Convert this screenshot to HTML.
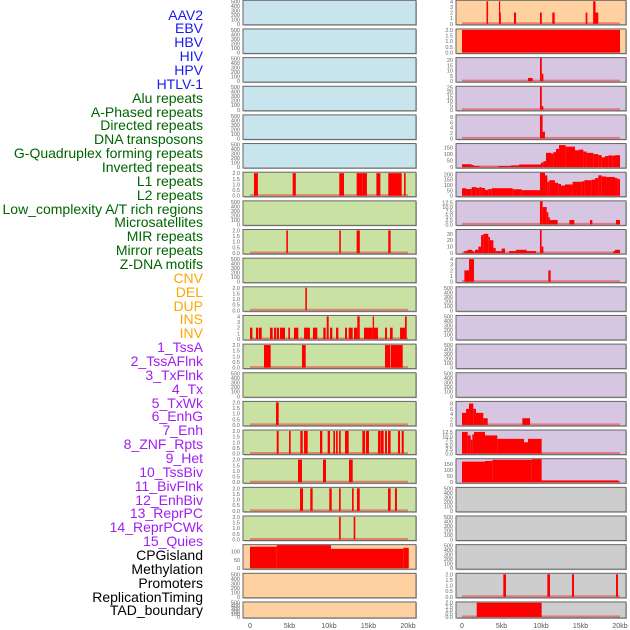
<!DOCTYPE html>
<html><head><meta charset="utf-8"><style>
body{margin:0;background:#fff;width:630px;height:630px;overflow:hidden;font-family:"Liberation Sans",sans-serif}
#labels{position:absolute;left:0;top:0;width:203px}
.lab{position:absolute;right:0;font-size:14px;line-height:14px;white-space:nowrap}
svg{position:absolute;left:0;top:0}
</style></head><body>
<div id="labels"></div>
<svg id="chart" width="630" height="630"></svg>
<script>
const labelNames=["AAV2","EBV","HBV","HIV","HPV","HTLV-1","Alu repeats","A-Phased repeats","Directed repeats","DNA transposons","G-Quadruplex forming repeats","Inverted repeats","L1 repeats","L2 repeats","Low_complexity A/T rich regions","Microsatellites","MIR repeats","Mirror repeats","Z-DNA motifs","CNV","DEL","DUP","INS","INV","1_TssA","2_TssAFlnk","3_TxFlnk","4_Tx","5_TxWk","6_EnhG","7_Enh","8_ZNF_Rpts","9_Het","10_TssBiv","11_BivFlnk","12_EnhBiv","13_ReprPC","14_ReprPCWk","15_Quies","CPGisland","Methylation","Promoters","ReplicationTiming","TAD_boundary"];
const labelGroups=[6,13,5,15,5];
const xTickLabels=["0","5kb","10kb","15kb","20kb"];
const xTickValues=[0,5,10,15,20];
const T500=[0,100,200,300,400,500];
const T2=[0,0.5,1,1.5,2];
const T4=[0,1,2,3,4];
// left column bar data [startKb,endKb,value]
const L6=[[0.5,1.0,2],[5.4,5.8,2],[11.3,11.9,2],[13.5,14.2,2],[14.2,14.8,2],[16.0,16.5,2],[17.5,19.2,2],[19.5,19.7,2]];
const L8=[[4.6,4.8,2],[11.3,11.5,2],[13.5,13.9,2],[17.5,17.8,2]];
const L10=[[7.0,7.2,2]];
const L11=[[0,0.3,2],[0.76,1.05,2],[1.14,1.48,2],[2.53,2.87,2],[3.04,3.29,2],[3.38,3.67,2],[3.8,4.43,2],[4.85,5.06,2],[5.57,6.11,2],[6.84,7.59,2],[7.97,8.52,2],[9.28,9.58,2],[9.71,9.96,4],[10.13,10.42,2],[10.89,11.18,2],[12.03,12.28,2],[12.49,13.0,2],[13.16,13.58,2],[13.58,13.89,4],[14.43,15.53,2],[15.53,15.7,4],[15.7,16.2,2],[17.09,17.34,2],[17.72,18.06,2],[18.99,19.62,2],[19.62,19.84,4]];
const L12=[[1.77,2.62,2],[6.58,7.05,2],[17.09,17.72,2],[17.8,19.33,2]];
const L14=[[3.29,3.63,2]];
const L15=[[3.38,3.63,2],[4.94,5.15,2],[6.37,6.67,2],[6.84,7.3,2],[8.86,9.15,2],[9.83,10.13,2],[10.55,10.76,2],[10.89,11.1,2],[11.27,11.48,2],[12.03,12.49,2],[14.22,14.56,2],[14.68,15.06,2],[16.2,16.5,2],[16.54,16.92,2],[17.09,17.34,2],[17.47,17.8,2],[18.73,18.99,2],[19.2,19.46,2]];
const L16=[[6.08,6.58,2],[9.24,9.62,2],[12.53,13.0,2]];
const L17=[[6.33,6.71,2],[7.63,7.93,2],[10.04,10.34,2],[11.27,11.48,2],[12.91,13.12,2],[13.54,13.89,2],[17.47,17.8,2],[18.35,18.6,2]];
const L18=[[11.27,11.48,2],[13.12,13.33,2]];
const L19=[[0,3.38,128],[3.38,10.25,140],[10.25,19.4,115],[19.4,20.1,121]];
// right column bar data
const R0=[[3.1,3.3,4],[4.68,4.77,4],[4.77,4.85,2],[6.58,6.84,2],[9.87,10.1,2],[11.43,11.73,2],[15.65,15.87,2],[16.6,16.9,4],[16.9,17.25,2]];
const R1=[[0,20,2]];
const R2=[[8.35,8.95,3],[9.87,10.1,23],[10.1,10.3,7]];
const R3=[[9.87,10.1,27],[10.1,10.3,4]];
const R4=[[9.87,10.2,9],[10.2,10.5,2.5]];
const R5=[[0,1.22,22],[1.22,1.52,15],[1.52,2.19,8],[2.19,4.6,2],[4.6,6.2,8],[6.2,7.22,13],[7.22,10.0,20],[10.0,10.3,35],[10.3,10.63,45],[10.63,11.27,110],[11.27,11.56,105],[11.56,11.9,115],[11.9,12.28,140],[12.28,13.12,170],[13.12,14.3,158],[14.3,14.81,130],[14.81,15.36,135],[15.36,15.78,120],[15.78,16.62,110],[16.62,17.26,100],[17.26,17.68,92],[17.68,18.1,75],[18.1,18.52,85],[18.52,19.03,90],[19.03,19.37,88],[19.37,20.0,92]];
const R6=[[0,0.51,70],[0.51,1.22,62],[1.22,1.86,80],[1.86,2.19,72],[2.19,2.49,80],[2.49,2.91,72],[2.91,3.33,55],[3.33,3.76,62],[3.76,6.41,70],[6.41,7.55,60],[7.55,9.87,52],[9.87,10.51,215],[10.51,10.8,190],[10.8,11.05,130],[11.05,11.77,145],[11.77,12.19,120],[12.19,12.53,110],[12.53,13.04,95],[13.04,14.0,105],[14.0,15.15,130],[15.15,15.49,135],[15.49,16.41,145],[16.41,16.84,150],[16.84,17.26,165],[17.26,17.68,190],[17.68,18.23,180],[18.23,19.37,175],[19.37,19.7,165],[19.7,20.0,155]];
const R7=[[9.87,10.21,13.5],[10.21,10.72,10],[10.72,10.93,7],[10.93,11.14,4],[11.14,12.11,2.5],[13.59,14.22,2.5],[16.2,16.5,2.5],[19.49,20.0,2.5]];
const R8=[[0.3,0.68,3],[0.68,1.31,5],[1.31,1.56,3],[1.65,2.07,5],[2.07,2.41,10],[2.41,2.7,28],[2.7,3.33,30],[3.33,3.54,25],[3.54,3.97,20],[3.97,4.26,8],[4.26,5.02,3],[5.02,5.44,7],[5.95,6.84,3],[6.84,8.19,5],[8.19,9.37,3],[9.87,10.08,36],[10.08,10.3,10],[19.16,19.37,3],[19.37,20.0,5]];
const R9=[[0.3,0.89,2],[0.89,1.52,4],[10.93,11.22,2]];
const R14=[[0,0.51,4.5],[0.51,0.89,6],[0.89,1.43,8],[1.43,1.77,6],[1.77,2.7,4.5],[2.7,3.25,2.5],[7.64,8.61,2.5]];
const R15=[[0,0.72,12.5],[0.72,1.1,10.5],[1.1,1.31,8],[1.31,1.52,11],[1.52,2.91,12.5],[2.91,4.47,10.5],[4.47,7.85,8.5],[7.85,8.35,6.5],[8.35,10.08,8.5]];
const R16=[[0,2.91,170],[2.91,3.84,175],[3.84,8.82,185],[8.82,10.08,190],[10.08,19.79,15],[19.79,20.0,5]];
const R20=[[5.23,5.57,2],[10.8,11.14,2],[13.92,14.18,2],[19.5,19.75,2]];
const R21=[[1.86,10.08,2]];

const C={blue:"#c8e4ec",green:"#c9e1a2",orange:"#ffd0a0",purple:"#d6c6e2",grey:"#cdcdcd"};
const leftPanels=[];
for(let i=0;i<6;i++)leftPanels.push({bg:C.blue,t:T500,d:null});
const lg=[[L6,T2],[null,T500],[L8,T2],[null,T500],[L10,T2],[L11,T4],[L12,T2],[null,T500],[L14,T2],[L15,T2],[L16,T2],[L17,T2],[L18,T2]];
lg.forEach(p=>leftPanels.push({bg:C.green,t:p[1],d:p[0]}));
leftPanels.push({bg:C.orange,t:[0,50,100],d:L19,ymax:137});
leftPanels.push({bg:C.orange,t:T500,d:null});
leftPanels.push({bg:C.orange,t:T500,d:null});
const rightPanels=[
{bg:C.orange,t:T4,d:R0},{bg:C.orange,t:T2,d:R1},
{bg:C.purple,t:[0,5,10,15,20],d:R2,ymax:22},{bg:C.purple,t:[0,5,10,15,20,25],d:R3,ymax:26},
{bg:C.purple,t:[0,2,4,6,8],d:R4,ymax:8.6},{bg:C.purple,t:[0,50,100,150],d:R5,ymax:178},
{bg:C.purple,t:[0,50,100,150,200],d:R6,ymax:215},{bg:C.purple,t:[0,2.5,5,7.5,10,12.5],d:R7,ymax:13.3},
{bg:C.purple,t:[0,10,20,30],d:R8,ymax:36},{bg:C.purple,t:T4,d:R9},
{bg:C.purple,t:T500,d:null},{bg:C.purple,t:T500,d:null},{bg:C.purple,t:T500,d:null},{bg:C.purple,t:T500,d:null},
{bg:C.purple,t:[0,2,4,6,8],d:R14,ymax:8.6},{bg:C.purple,t:[0,2.5,5,7.5,10,12.5],d:R15,ymax:13.3},
{bg:C.purple,t:[0,50,100,150],d:R16,ymax:190},
{bg:C.grey,t:T500,d:null},{bg:C.grey,t:T500,d:null},{bg:C.grey,t:T500,d:null},
{bg:C.grey,t:T2,d:R20},{bg:C.grey,t:T2,d:R21}];

// labels
const labColors=["#1a1aee","#006400","#ffa500","#a020f0","#000000"];
const labDiv=document.getElementById('labels');
let gi=0,cnt=0;
labelNames.forEach((n,i)=>{
  const d=document.createElement('div');
  
  
  d.className='lab';d.textContent=n;
  d.style.top=(15+i*13.86-7.5)+'px';
  d.style.color=labColors[gi];
  labDiv.appendChild(d);
  cnt++;if(cnt>=labelGroups[gi]){gi++;cnt=0;}
});

const NS="http://www.w3.org/2000/svg";
const svg=document.getElementById('chart');
function mk(tag,attrs,parent){const e=document.createElementNS(NS,tag);for(const k in attrs)e.setAttribute(k,attrs[k]);(parent||svg).appendChild(e);return e;}
function fmt(v,ticks){return ticks.some(t=>t%1!==0)?v.toFixed(1):String(v);}
function drawCol(panels,x0,x1,zeroX,side){
  const kx=k=>zeroX+k*7.9;
  panels.forEach((p,i)=>{
    const top=0.3+i*28.65, h=(i===21)?16:24.5;
    const g=mk('g',{});
    
    
    mk('rect',{x:x0+1,y:top+1,width:x1-x0,height:h,fill:'#bbb'},g);
    mk('rect',{x:x0,y:top,width:x1-x0,height:h,fill:p.bg,stroke:'#666',"stroke-width":1},g);
    const ymax=p.ymax||p.t[p.t.length-1]*1.02;
    const ky=v=>top+h-1-Math.min(v,ymax)/ymax*(h-1.5);
    if(p.d){
      const bl=mk('rect',{x:kx(0),y:ky(0)-1.5,width:kx(20)-kx(0),height:2,fill:'rgba(230,60,60,0.55)'},g);
      
      
      p.d.forEach(b=>{
        const yy=ky(b[2]);
        const r=mk('rect',{x:kx(b[0]),y:yy,width:Math.max(1.2,kx(b[1])-kx(b[0])),height:top+h-1-yy,fill:'#ff0000'},g);
        
        
      });
    }
    p.t.forEach(t=>{
      const tx=mk('text',{x:x0-3,y:ky(t)+2,"text-anchor":"end","font-size":"5.5","fill":"#666"},g);
      tx.textContent=fmt(t,p.t);
      
      
    });
  });
  xTickValues.forEach((v,j)=>{
    const tx=mk('text',{x:kx(v),y:628,"text-anchor":"middle","font-size":"7","fill":"#555"});
    tx.textContent=xTickLabels[j];
    
    
  });
}
drawCol(leftPanels,243,416,250,'left');
drawCol(rightPanels,456,626,462,'right');
</script>
</body></html>
